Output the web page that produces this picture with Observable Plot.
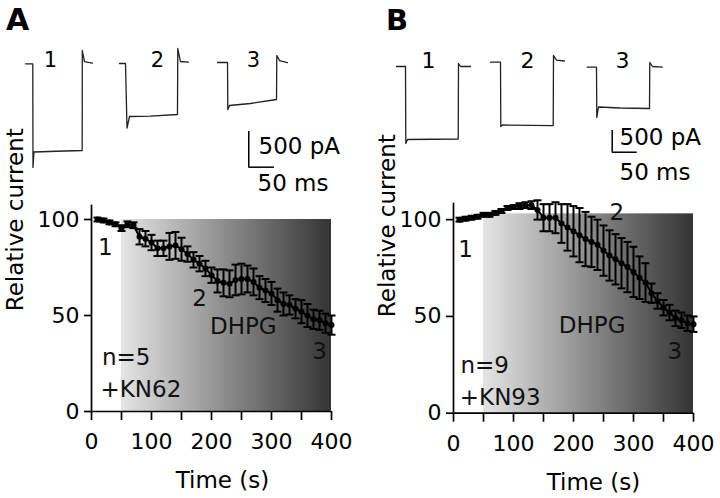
<!DOCTYPE html>
<html><head><meta charset="utf-8">
<script src="https://cdn.jsdelivr.net/npm/d3@7"></script>
<script src="https://cdn.jsdelivr.net/npm/@observablehq/plot@0.6"></script>
<style>
body{margin:0;background:#fff}
#fig{position:relative;width:720px;height:498px;background:#fff;font-family:"DejaVu Sans",sans-serif;overflow:hidden}
#fig > *{position:absolute}
.plab{font-weight:bold;line-height:1;color:#000}
</style></head><body><div id="fig"></div>
<script>
// ---------- time course data (s, % of baseline) ----------
const timeA = [10,20,30,40,50,60,70,80,90,100,110,120,130,140,150,160,170,180,190,200,210,220,230,240,250,260,270,280,290,300,310,320,330,340,350,360,370,380,390,400];
const meanA = [100,99.5,98.5,97.5,95.5,97.5,97,91,90,88,85,85,86,86.5,84.5,82,79,77,74.5,71,68,67,66.5,68.5,69,69,67.5,64.5,63,61.5,58,56,55.5,53.5,52,50,48,47.5,46,45];
const semA  = [1,1,1,1,1.5,1.5,1.5,4,4,4,4,4,7,7,6,4,4,4,4,4,6,7,7,8,8,7,7,6,6,6,6,6,5,5,6,6,5,5,5,5];
const timeB = [10,20,30,40,50,60,70,80,90,100,110,120,130,140,150,160,170,180,190,200,210,220,230,240,250,260,270,280,290,300,310,320,330,340,350,360,370,380,390,400];
const meanB = [100,100.5,101,101.5,102.5,102.5,103.5,104.5,106,106.5,107,107.5,107.5,105,101,101,101,98,96,94,92,90,88.5,87,84,81.5,79.5,77.5,75.5,73,70,67.5,62,58,54.5,52,49,48,46.5,46];
const semB  = [1,1,1,1,1,1,1,1,1,1,1.5,1.5,2,5,7,7,8,10,12,13,14,14,13,13,13,13,13,13,13,13,11,10,5,4,4,4,4,4,4,4];
const xTicks = [0,50,100,150,200,250,300,350,400];
const yTicks = [0,50,100];
const dhpgStart = 50, dhpgEnd = 400;
const shadeTopA = 100, shadeTopB = 103;
const annA = [{x:23,y:85.6,t:"1"},{x:180,y:58.8,t:"2"},{x:253,y:44,t:"DHPG"},{x:380,y:31,t:"3"}];
const infoA = [{x:17.5,y:28.3,t:"n=5"},{x:15,y:11.5,t:"+KN62"}];
const annB = [{x:20,y:84.7,t:"1"},{x:272,y:103.6,t:"2"},{x:231,y:45,t:"DHPG"},{x:369,y:32,t:"3"}];
const infoB = [{x:11.7,y:24.6,t:"n=9"},{x:10.5,y:8.2,t:"+KN93"}];

// ---------- example current traces (ms from sweep start, pA from holding) ----------
const sweepsA = [
  [[0,0],[14.2,0],[14.6,-1452],[16.5,-1235],[60,-1225],[110.3,-1214],[110.5,186],[114.8,32],[122.6,20],[130.4,10]],
  [[0,0],[11.7,0],[14.6,-903],[19.5,-742],[60.3,-738],[112.8,-714],[113.4,210],[118.6,28],[134,20]],
  [[0,0],[19.5,0],[20,-658],[23.3,-602],[64.2,-574],[114.8,-518],[115.4,98],[120.6,28],[136,0]]
];
const holdingA = [0,4,18];
const sweepsB = [
  [[0,0],[18,0],[18.6,-1774],[22,-1682],[123.4,-1670],[124,69],[128,0],[148,0]],
  [[0,0],[20,0],[20.6,-1481],[24,-1447],[125.4,-1459],[126,154],[132,50],[148,28]],
  [[0,0],[18.6,0],[19.2,-1159],[22.6,-917],[66.6,-940],[124.6,-952],[125.2,108],[130.6,16],[150,0]]
];
const holdingB = [0,99,-16];
const sweepLabels = ["1","2","3"];
const barI = 500, barT = 50;

const fig = document.getElementById("fig");
const FONT = "DejaVu Sans";

// horizontal cap symbol for error bars
const capSym = {draw(ctx, size){ const w = Math.sqrt(size/Math.PI); ctx.moveTo(-w,0); ctx.lineTo(w,0); }};

function addGradient(svg, id){
  const ns = "http://www.w3.org/2000/svg";
  const defs = document.createElementNS(ns,"defs");
  defs.innerHTML = `<linearGradient id="${id}" x1="0" x2="1" y1="0" y2="0">
    <stop offset="0" stop-color="#e4e4e4"/><stop offset="1" stop-color="#343434"/></linearGradient>`;
  svg.insertBefore(defs, svg.firstChild);
}

function coursePlot(o){
  const rows = o.time.map((t,i)=>({t, m:o.mean[i], e:o.sem[i]}));
  const svg = Plot.plot({
    width:360, height:308,
    marginLeft:o.mL, marginRight:o.mR, marginTop:o.mT, marginBottom:o.mB,
    x:{domain:[0,400]}, y:{domain:[0,o.yMax]},
    style:{fontFamily:FONT, fontSize:"22px", color:"#000", background:"transparent", overflow:"visible"},
    marks:[
      Plot.rect([{x1:dhpgStart,x2:dhpgEnd,y1:0,y2:o.shadeTop}], {x1:"x1",x2:"x2",y1:"y1",y2:"y2", fill:`url(#${o.grad})`}),
      Plot.ruleX(rows, {x:"t", y1:d=>d.m-d.e, y2:d=>d.m+d.e, stroke:"#000", strokeWidth:2}),
      Plot.dot(rows, {x:"t", y:d=>d.m-d.e, symbol:capSym, r:4, fill:"none", stroke:"#000", strokeWidth:2}),
      Plot.dot(rows, {x:"t", y:d=>d.m+d.e, symbol:capSym, r:4, fill:"none", stroke:"#000", strokeWidth:2}),
      Plot.line(rows, {x:"t", y:"m", stroke:"#000", strokeWidth:2}),
      Plot.dot(rows, {x:"t", y:"m", r:3, fill:"#000"}),
      Plot.ruleY([0], {stroke:"#000", strokeWidth:1.7}),
      Plot.ruleX([0], {stroke:"#000", strokeWidth:1.7}),
      Plot.axisX({ticks:xTicks, tickSize:9, tickPadding:13, strokeWidth:1.7, tickFormat:d=>d%100===0?String(d):"", label:null, fontSize:22}),
      Plot.axisY({ticks:yTicks, tickSize:7, tickPadding:5, strokeWidth:1.7, label:null, fontSize:22}),
      Plot.text(o.ann, {x:"x", y:"y", text:"t", fontSize:23, lineAnchor:"middle", fill:"#111"}),
      Plot.text(o.info, {x:"x", y:"y", text:"t", fontSize:23, textAnchor:"start", lineAnchor:"middle", fill:"#111"}),
      Plot.text(["Time (s)"], {frameAnchor:"bottom", dx:o.tdx, dy:69, fontSize:23, lineAnchor:"middle"}),
      Plot.text(["Relative current"], {frameAnchor:"left", dx:o.ydx, dy:o.ydy, rotate:-90, fontSize:23, lineAnchor:"middle"})
    ]
  });
  addGradient(svg, o.grad);
  svg.style.left = o.left+"px"; svg.style.top = "190px";
  fig.appendChild(svg);
}

function tracePlot(o){
  const rows = [];
  o.sweeps.forEach((sw,s)=>sw.forEach(([t,I])=>rows.push({s, x:o.offsets[s]+t, y:o.holding[s]+I})));
  const labs = sweepLabels.map((t,i)=>({t, x:o.labX[i], y:o.labY}));
  const b = o.bar;
  const svg = Plot.plot({
    width:360, height:190, margin:0,
    x:{domain:o.xDomain, axis:null}, y:{domain:o.yDomain, axis:null},
    style:{fontFamily:FONT, color:"#000", background:"transparent", overflow:"visible"},
    marks:[
      Plot.line(rows, {x:"x", y:"y", z:"s", stroke:"#222", strokeWidth:1.3}),
      Plot.text(labs, {x:"x", y:"y", text:"t", fontSize:o.labSize, lineAnchor:"middle"}),
      Plot.ruleX([b.t], {y1:b.i, y2:b.i+barI, stroke:"#000", strokeWidth:1.5}),
      Plot.ruleY([b.i], {x1:b.t, x2:b.t+barT, stroke:"#000", strokeWidth:1.5}),
      Plot.text([{x:b.pAx, y:b.pAy, t:"500 pA"},{x:b.msx, y:b.msy, t:"50 ms"}], {x:"x", y:"y", text:"t", fontSize:23, textAnchor:"start", lineAnchor:"middle"})
    ]
  });
  svg.style.left = o.left+"px"; svg.style.top = "0px";
  fig.appendChild(svg);
}

tracePlot({sweeps:sweepsA, holding:holdingA, offsets:[48.6,231.5,422.2], xDomain:[0,700.4], yDomain:[-1774.5,886.6],
  labX:[97.3,305.4,492.2], labY:46, labSize:21, left:0,
  bar:{t:483, i:-1448, pAx:502, pAy:-1154, msx:500, msy:-1676}});
tracePlot({sweeps:sweepsB, holding:holdingB, offsets:[72,260,453.4], xDomain:[0,720], yDomain:[-2857,1520.7],
  labX:[136,334,524], labY:138, labSize:22, left:360,
  bar:{t:503.4, i:-1975, pAx:518, pAy:-1629, msx:518, msy:-2435}});

coursePlot({time:timeA, mean:meanA, sem:semA, yMax:107.5, shadeTop:shadeTopA, ann:annA, info:infoA, grad:"gA",
  mL:91, mR:29, mT:14.6, mB:87, left:0, tdx:11, ydx:-76, ydy:3});
coursePlot({time:timeB, mean:meanB, sem:semB, yMax:108.5, shadeTop:shadeTopB, ann:annB, info:infoB, grad:"gB",
  mL:93, mR:27, mT:12.7, mB:85.3, left:360, tdx:20, ydx:-66, ydy:9});

for (const [t,l,tp,fs] of [["A",6,5,30],["B",386,6,29]]){
  const d = document.createElement("div");
  d.className = "plab"; d.textContent = t;
  d.style.left = l+"px"; d.style.top = tp+"px"; d.style.fontSize = fs+"px";
  fig.appendChild(d);
}
</script></body></html>
